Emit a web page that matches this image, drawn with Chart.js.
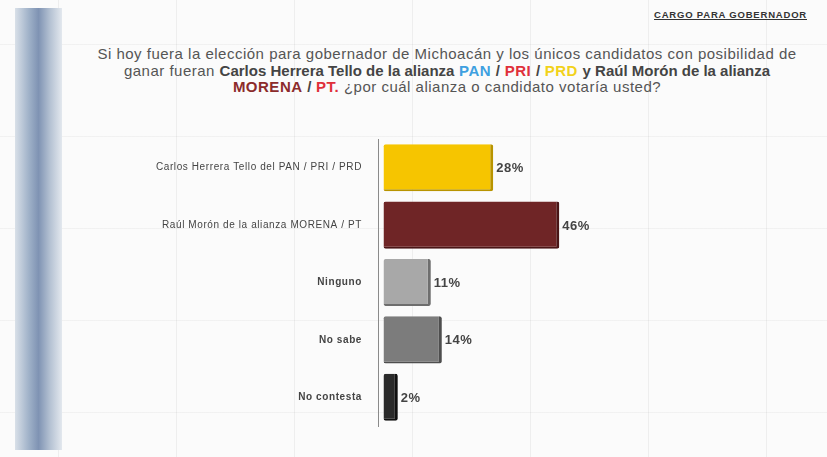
<!DOCTYPE html>
<html>
<head>
<meta charset="utf-8">
<script src="https://cdn.jsdelivr.net/npm/chart.js@4.4.1/dist/chart.umd.min.js"></script>
<style>
    html, body { margin: 0; padding: 0; }
    body {
        width: 827px; height: 457px; overflow: hidden; position: relative;
        font-family: "Liberation Sans", Arial, sans-serif;
        background-color: #fbfbfb;
        background-image:
            repeating-linear-gradient(90deg, transparent 0 58px, rgba(0,0,0,0.05) 58px 59px, transparent 59px 118px),
            repeating-linear-gradient(0deg, transparent 0 44px, rgba(0,0,0,0.04) 44px 45px, transparent 45px 92px);
    }
    #strip {
        position: absolute; left: 15px; top: 8px; width: 47px; height: 442px;
        background: linear-gradient(90deg, #d9e0e8 0%, #9fb1c8 30%, #7f93b3 50%, #b5c2d3 75%, #e3e8ee 100%);
    }
    #cargo {
        position: absolute; right: 20px; top: 9px;
        font-size: 9.5px; font-weight: bold; color: #333; text-decoration: underline;
        letter-spacing: 0.8px;
    }
    #title {
        position: absolute; left: 72px; width: 750px; top: 46px;
        text-align: center; font-size: 15px; line-height: 16.5px; color: #555;
        letter-spacing: 0.5px;
    }
    #title b { color: #444; letter-spacing: 0px; }
    .pan { color: #3ea0e0; font-weight: bold; }
    .pri { color: #e0303a; font-weight: bold; }
    .prd { color: #f2d21a; font-weight: bold; }
    .morena { color: #8c2b2b; font-weight: bold; }
    #wrap { position: absolute; left: 0; top: 0; width: 827px; height: 457px; }
</style>
</head>
<body>
<div id="strip"></div>
<div id="cargo">CARGO PARA GOBERNADOR</div>
<div id="title">
    Si hoy fuera la elección para gobernador de Michoacán y los únicos candidatos con posibilidad de<br>
    ganar fueran <b>Carlos Herrera Tello de la alianza</b> <span class="pan">PAN</span> <b>/</b> <span class="pri">PRI</span> <b>/</b> <span class="prd">PRD</span> <b>y Raúl Morón de la alianza</b><br>
    <span class="morena">MORENA</span> <b>/</b> <span class="pri">PT.</span> ¿por cuál alianza o candidato votaría usted?
</div>
<div id="wrap"><canvas id="mycanvas"></canvas></div>
<script>
const labels = [
    'Carlos Herrera Tello del PAN / PRI / PRD',
    'Raúl Morón de la alianza MORENA / PT',
    'Ninguno',
    'No sabe',
    'No contesta'
];
const values = [28, 46, 11, 14, 2];
const valueLabels = ['28%', '46%', '11%', '14%', '2%'];
const barColors = ['#f6c500', '#6f2526', '#a8a8a8', '#7c7c7c', '#2b2b2b'];
const edgeColors = ['#b89400', '#4a1516', '#6e6e6e', '#4e4e4e', '#111111'];

// wider letters, like the stretched slide
const spacing = {
    id: 'spacing',
    beforeDraw(chart) {
        chart.ctx.letterSpacing = '0.6px';
    }
};

// draws the percentage next to each bar
const valueText = {
    id: 'valueText',
    afterDatasetsDraw(chart) {
        const ctx = chart.ctx;
        const meta = chart.getDatasetMeta(0);
        ctx.save();
        ctx.letterSpacing = '0.5px';
        ctx.font = 'bold 13px "Liberation Sans", Arial, sans-serif';
        ctx.fillStyle = '#444';
        ctx.textBaseline = 'middle';
        ctx.textAlign = 'left';
        meta.data.forEach(function (bar, i) {
            ctx.fillText(valueLabels[i], bar.x + 3, bar.y + 1);
        });
        ctx.restore();
    }
};

const chartdata = {
    labels: labels,
    datasets: [{
        label: 'Preferencia',
        data: values,
        base: -1.9,
        backgroundColor: barColors,
        borderColor: edgeColors,
        borderWidth: { top: 0, left: 0, right: 3, bottom: 2 },
        borderSkipped: false,
        borderRadius: 2,
        categoryPercentage: 0.82,
        barPercentage: 1
    }]
};

var ctx = document.getElementById('mycanvas');

var barGraph = new Chart(ctx, {
    type: 'bar',
    data: chartdata,
    plugins: [spacing, valueText],
    options: {
        indexAxis: 'y',
        responsive: true,
        maintainAspectRatio: false,
        animation: false,
        layout: { padding: { top: 139, bottom: 31, left: 0, right: 69.5 } },
        plugins: {
            legend: { display: false },
            tooltip: { enabled: false },
            title: { display: false }
        },
        scales: {
            x: {
                display: false,
                min: -3.4,
                max: 100
            },
            y: {
                afterFit: function (scale) { scale.width = 378; },
                grid: { display: false },
                border: { display: true, color: '#8a8a8a', width: 1 },
                ticks: {
                    padding: 8,
                    color: '#444',
                    font: function (c) {
                        return {
                            size: 10,
                            family: '"Liberation Sans", Arial, sans-serif',
                            weight: c.index >= 2 ? 'bold' : 'normal'
                        };
                    }
                }
            }
        }
    }
});
</script>
</body>
</html>
